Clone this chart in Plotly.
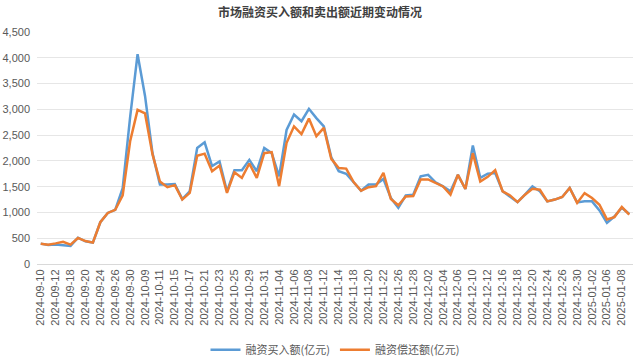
import plotly.graph_objects as go

dates = [
    "2024-09-10", "2024-09-11", "2024-09-12", "2024-09-13", "2024-09-18", "2024-09-19",
    "2024-09-20", "2024-09-23", "2024-09-24", "2024-09-25", "2024-09-26", "2024-09-27",
    "2024-09-30", "2024-10-08", "2024-10-09", "2024-10-10", "2024-10-11", "2024-10-14",
    "2024-10-15", "2024-10-16", "2024-10-17", "2024-10-18", "2024-10-21", "2024-10-22",
    "2024-10-23", "2024-10-24", "2024-10-25", "2024-10-28", "2024-10-29", "2024-10-30",
    "2024-10-31", "2024-11-01", "2024-11-04", "2024-11-05", "2024-11-06", "2024-11-07",
    "2024-11-08", "2024-11-11", "2024-11-12", "2024-11-13", "2024-11-14", "2024-11-15",
    "2024-11-18", "2024-11-19", "2024-11-20", "2024-11-21", "2024-11-22", "2024-11-25",
    "2024-11-26", "2024-11-27", "2024-11-28", "2024-11-29", "2024-12-02", "2024-12-03",
    "2024-12-04", "2024-12-05", "2024-12-06", "2024-12-09", "2024-12-10", "2024-12-11",
    "2024-12-12", "2024-12-13", "2024-12-16", "2024-12-17", "2024-12-18", "2024-12-19",
    "2024-12-20", "2024-12-23", "2024-12-24", "2024-12-25", "2024-12-26", "2024-12-27",
    "2024-12-30", "2024-12-31", "2025-01-02", "2025-01-03", "2025-01-06", "2025-01-07",
    "2025-01-08", "2025-01-09",
]

buy = [
    395, 370, 380, 370, 350, 510, 440, 415, 810, 990, 1050, 1470,
    2850, 4070, 3260, 2150, 1540, 1540, 1550, 1260, 1410, 2250, 2360, 1900,
    1990, 1410, 1820, 1820, 2020, 1800, 2250, 2150, 1700, 2600, 2900, 2770,
    3010, 2830, 2670, 2070, 1800, 1750, 1590, 1420, 1540, 1540, 1650, 1280,
    1090, 1330, 1345, 1700, 1730, 1585, 1505, 1410, 1730, 1455, 2300, 1670,
    1750, 1765, 1410, 1300, 1200, 1345, 1505, 1410, 1215, 1250, 1300, 1475,
    1195, 1215, 1215, 1040, 800, 920, 1090, 970,
]

repay = [
    395, 375, 400, 430, 375, 505, 445, 415, 810, 990, 1050, 1330,
    2380, 2990, 2920, 2130, 1600, 1490, 1530, 1250, 1380, 2100, 2140, 1800,
    1910, 1380, 1780, 1670, 1950, 1670, 2150, 2170, 1510, 2350, 2670, 2520,
    2820, 2480, 2640, 2040, 1860, 1850, 1590, 1420, 1490, 1510, 1770, 1260,
    1140, 1310, 1320, 1640, 1640, 1570, 1505, 1345, 1730, 1455, 2150, 1600,
    1690, 1820, 1410, 1330, 1200, 1345, 1460, 1440, 1215, 1250, 1300, 1475,
    1185, 1375, 1280, 1150, 865, 910, 1105, 960,
]

series_names = ["融资买入额(亿元)", "融资偿还额(亿元)"]
y_ticks = [0, 500, 1000, 1500, 2000, 2500, 3000, 3500, 4000, 4500]
title_text = "市场融资买入额和卖出额近期变动情况"

FONT = "Liberation Sans, Arial, Noto Sans CJK SC, sans-serif"
TXT = "#595959"

fig = go.Figure()
fig.add_trace(go.Scatter(x=dates, y=buy, mode="lines", name=series_names[0],
                         line=dict(color="#5B9BD5", width=2.5)))
fig.add_trace(go.Scatter(x=dates, y=repay, mode="lines", name=series_names[1],
                         line=dict(color="#ED7D31", width=2.5)))

fig.update_layout(
    width=640, height=364,
    margin=dict(l=37, r=7, t=32, b=100, autoexpand=False),
    paper_bgcolor="white", plot_bgcolor="white",
    font=dict(family=FONT, color=TXT, size=11),
    title=dict(text="<b>" + title_text + "</b>", x=0.5, xanchor="center",
               y=0.965, yanchor="middle",
               font=dict(family="Noto Sans CJK SC, sans-serif", size=12, color="#404040")),
    showlegend=True,
    legend=dict(orientation="h", x=0.5, xanchor="center", y=-0.37, yanchor="middle",
                font=dict(family="Noto Sans CJK SC, sans-serif", size=11, color=TXT),
                itemwidth=30, tracegroupgap=0),
    xaxis=dict(type="category", categoryorder="array", categoryarray=dates,
               range=[-0.5, len(dates) - 0.5], automargin=False,
               tickmode="array", tickvals=dates[::2], ticktext=dates[::2],
               tickangle=-90, tickfont=dict(size=11, color=TXT),
               showgrid=False, showline=True, linecolor="#D9D9D9", linewidth=1,
               ticks="", zeroline=False),
    yaxis=dict(range=[0, 4500], tickmode="array", tickvals=y_ticks, automargin=False,
               ticktext=[f"{v:,}" for v in y_ticks],
               tickfont=dict(size=11, color=TXT),
               showgrid=True, gridcolor="#E6E6E6", gridwidth=1,
               zeroline=False, showline=False, ticks="", ticklabelstandoff=6),
)

fig.write_html("out.html", config={"displayModeBar": False},
               post_script="document.body.style.margin='0';document.body.style.overflow='hidden';")
